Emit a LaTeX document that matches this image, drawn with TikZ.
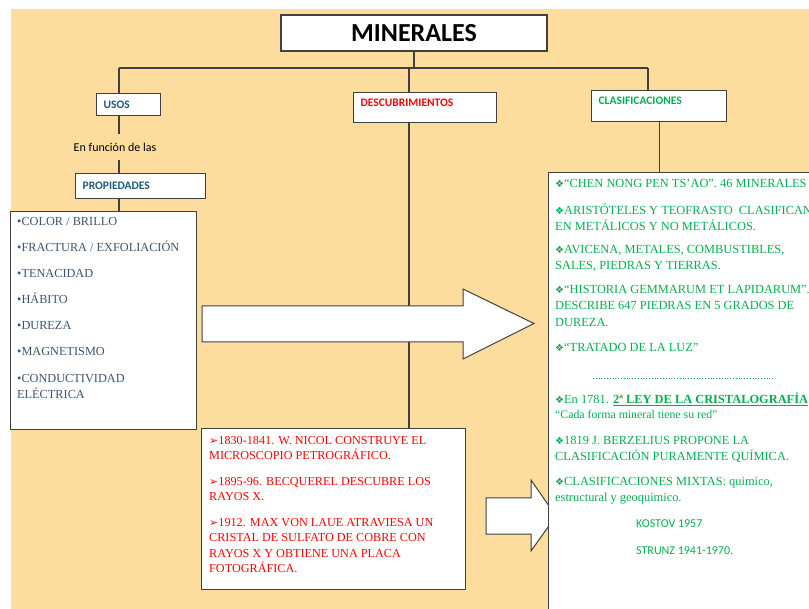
\documentclass[tikz,border=0pt]{standalone}
\usepackage{fontspec}
\setmainfont{Liberation Serif}
\newfontfamily\headfont{Carlito}
\newfontfamily\symfont{DejaVu Sans}
\usepackage{tikz}
\usetikzlibrary{positioning,calc}
\definecolor{colorBg}{HTML}{FCDD9D}
\definecolor{colorLine}{HTML}{404040}
\definecolor{colorBlue}{HTML}{1F5A7A}
\definecolor{colorSlate}{HTML}{3A5670}
\definecolor{colorRed}{HTML}{FF0000}
\definecolor{colorGreen}{HTML}{00B050}
\newcommand{\clasbul}{{\symfont\fontsize{10}{10}\selectfont ❖}}
\newcommand{\descbul}{{\symfont\fontsize{11}{11}\selectfont ➢}}

\begin{document}
\begin{tikzpicture}[
    x=1pt, y=-1pt,
    box/.style={rectangle, draw=colorLine, line width=1.3pt, fill=white},
    headbox/.style={box, anchor=north west, inner xsep=7pt, inner ysep=0pt, align=left, font=\headfont\bfseries\fontsize{11.5}{13}\selectfont},
    listbox/.style={box, anchor=north west, inner sep=0pt},
    proptext/.style={anchor=base west, inner sep=0pt, align=left, text=colorSlate, font=\fontsize{12.3}{16}\selectfont},
    clastext/.style={anchor=base west, inner sep=0pt, align=left, text=colorGreen, font=\fontsize{12.4}{16.5}\selectfont},
    desctext/.style={anchor=base west, inner sep=0pt, align=left, text=colorRed, font=\fontsize{12.2}{15.3}\selectfont},
    link/.style={draw=colorLine, line width=1.1pt},
    blockarrow/.style={draw=colorLine, line width=1pt, fill=white, line join=miter}
]
    \useasboundingbox (0,0) rectangle (809,609);
    \fill[white] (0,0) rectangle (809,609);
    \fill[colorBg] (11,9) rectangle (820,620);

    % Nodes
    \node[box, minimum width=266pt, minimum height=36pt, font=\headfont\bfseries\fontsize{26}{26}\selectfont] (minerales) at (414,33) {MINERALES};

    \node[headbox, text width=50pt, minimum height=22pt, text=colorBlue] (usos) at (96,93) {USOS};
    \node[headbox, text width=129pt, minimum height=30pt, text depth=10pt, text=colorRed] (descub) at (353,92) {DESCUBRIMIENTOS};
    \node[headbox, text width=121pt, minimum height=31pt, text depth=10pt, text=colorGreen] (clasif) at (591,90) {CLASIFICACIONES};

    \node[inner sep=0pt, minimum height=25pt, font=\headfont\fontsize{12}{14}\selectfont] (funcion) at (115,147) {En función de las};
    \node[headbox, text width=116pt, minimum height=25pt, text=colorBlue] (propied) at (75,173) {PROPIEDADES};

    \node[listbox, minimum width=186pt, minimum height=218pt] (props) at (10,211) {};
    \node[listbox, minimum width=264pt, minimum height=161pt] (descbox) at (201,428) {};

    \draw[blockarrow] (486,498) -- (531,498) -- (531,480) -- (556,516) -- (531,551) -- (531,534) -- (486,534) -- cycle;

    \node[listbox, minimum width=280pt, minimum height=460pt] (clasbox) at (548,172) {};

    % Propiedades (anchor = last baseline)
    \foreach \t [count=\i] in {COLOR / BRILLO, FRACTURA / EXFOLIACIÓN, TENACIDAD, HÁBITO, DUREZA, MAGNETISMO}
        \node[proptext] (p\i) at (17,226+26*\i-26) {•\t};
    \node[proptext] (p7) at (17,398.5) {•CONDUCTIVIDAD\\ELÉCTRICA};

    % Descubrimientos
    \node[desctext] (d1) at (209,459.8) {\descbul 1830-1841. W. NICOL CONSTRUYE EL\\MICROSCOPIO PETROGRÁFICO.};
    \node[desctext] (d2) at (209,500.8) {\descbul 1895-96. BECQUEREL DESCUBRE LOS\\RAYOS X.};
    \node[desctext] (d3) at (209,572.4) {\descbul 1912. MAX VON LAUE ATRAVIESA UN\\CRISTAL DE SULFATO DE COBRE CON\\RAYOS X Y OBTIENE UNA PLACA\\FOTOGRÁFICA.};

    % Clasificaciones
    \node[clastext] (c1) at (555,187.5) {\clasbul“CHEN NONG PEN TS’AO”. 46 MINERALES};
    \node[clastext] (c2) at (555,231) {\clasbul ARISTÓTELES Y TEOFRASTO\ \ CLASIFICAN\\EN METÁLICOS Y NO METÁLICOS.};
    \node[clastext] (c3) at (555,270) {\clasbul AVICENA, METALES, COMBUSTIBLES,\\SALES, PIEDRAS Y TIERRAS.};
    \node[clastext] (c4) at (555,326.5) {\clasbul“HISTORIA GEMMARUM ET LAPIDARUM”.\\DESCRIBE 647 PIEDRAS EN 5 GRADOS DE\\DUREZA.};
    \node[clastext] (c5) at (555,351.5) {\clasbul“TRATADO DE LA LUZ”};
    \draw[colorGreen, dotted, line width=0.8pt] (593,378) -- (775,378);
    \node[clastext] (c6) at (555,418.5) {\clasbul En 1781. \underline{\textbf{2ª LEY DE LA CRISTALOGRAFÍA}}\\[-2pt]{\fontsize{11.8}{13}\selectfont “Cada forma mineral tiene su red”}};
    \node[clastext] (c7) at (555,461) {\clasbul 1819 J. BERZELIUS PROPONE LA\\CLASIFICACIÓN PURAMENTE QUÍMICA.};
    \node[clastext] (c8) at (555,502) {\clasbul CLASIFICACIONES MIXTAS: quimico,\\estructural y geoquimico.};
    \node[clastext, font=\headfont\fontsize{12}{14}\selectfont] (kostov) at (636,527.5) {KOSTOV 1957};
    \node[clastext, font=\headfont\fontsize{12}{14}\selectfont] (strunz) at (636,554.5) {STRUNZ 1941-1970.};

    % Edges
    \coordinate (jl) at (119,68);
    \coordinate (jm) at (409,68);
    \coordinate (jr) at (648,68);
    \draw[link] (minerales.south) -- (minerales.south |- jl);
    \draw[link] (jl) -- (jr);
    \draw[link] (jl) -- (usos.north -| jl);
    \draw[link] (jm) -- (descub.north -| jm);
    \draw[link] (jr) -- (clasif.north -| jr);
    \draw[link] (usos.south -| jl) -- (funcion.north -| jl);
    \draw[link] (funcion.south -| jl) -- (propied.north -| jl);
    \draw[link] (propied.south -| jl) -- (props.north -| jl);
    \draw[link] (descub.south -| jm) -- (descbox.north -| jm);
    \draw[link] (clasif.south) -- (clasbox.north -| clasif.south);

    \draw[blockarrow] (202,306) -- (463,306) -- (463,289) -- (534,323.5) -- (463,359) -- (463,342) -- (202,342) -- cycle;

\end{tikzpicture}
\end{document}
